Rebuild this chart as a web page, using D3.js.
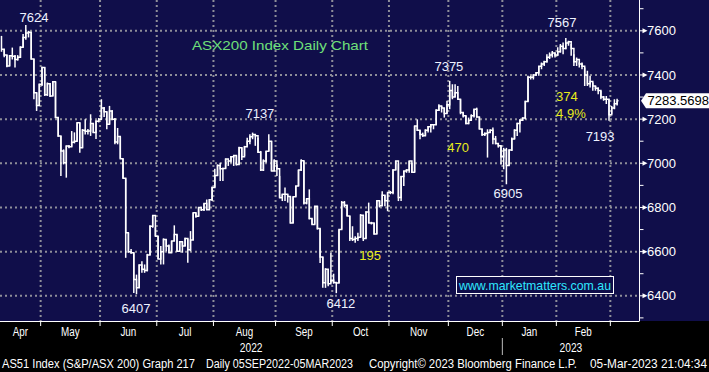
<!DOCTYPE html>
<html><head><meta charset="utf-8">
<script src="https://cdn.jsdelivr.net/npm/d3@7"></script>
<style>
html,body{margin:0;padding:0;background:#000;}
svg{display:block;}
</style></head><body>
<svg id="c" width="709" height="372"></svg>
<script>
// ---------- DATA ----------
const monthNames = ["Apr","May","Jun","Jul","Aug","Sep","Oct","Nov","Dec","Jan","Feb","Mar"];
const monthDays  = [15,22,21,21,23,21,21,22,20,20,20,3];
const yearLabels = ["2022","2023"];
const yearFirstMonth = [0,9];
const yTicks = [6400,6600,6800,7000,7200,7400,7600];
const yMinorTicks = [6300,6500,6700,6900,7100,7300,7500,7700];
const lastPrice = 7283.5698;

const closes = [
7517,7490,7441,7487,7485,7470,7480,7525,7570,7590,7593,7472,7320,7262,7358,
7434,7310,7360,7305,7369,7207,7124,7056,7003,7078,7075,7095,7100,7184,7070,7150,7145,7146,7180,7140,7190,7200,
7250,7233,7177,7237,7200,7096,7121,7021,6932,6685,6600,6595,6474,6436,6540,6520,6515,6585,6715,6764,6670,
6567,6600,6655,6625,6595,6648,6678,6602,6645,6625,6660,6608,6653,6776,6760,6800,6790,6818,6790,6835,6890,
6945,6990,6975,6976,7020,7010,7030,7035,6995,7070,7030,7075,7100,7120,7130,7125,7050,6970,7010,7055,7100,6965,7010,
6975,6844,6860,6860,6850,6730,6848,6897,6970,7012,6820,6840,6750,6723,6806,6705,6576,6459,6520,6455,6470,
6460,6458,6700,6822,6810,6761,6660,6655,6660,6665,6765,6660,6780,6730,6730,6680,6830,6808,6855,6830,6868,
6868,6970,7010,6845,6940,6965,6970,7010,6960,7169,7150,7130,7125,7150,7165,7175,7175,7240,7260,7250,7225,7265,
7330,7300,7320,7290,7230,7215,7180,7195,7215,7245,7210,7155,7130,7135,7140,7150,7110,7090,7080,7030,
7060,6990,7060,7110,7150,7180,7195,7205,7280,7390,7390,7400,7410,7440,7450,7460,7480,7490,7500,7490,
7505,7530,7520,7545,7550,7520,7460,7470,7450,7440,7400,7360,7370,7350,7340,7330,7300,7290,7290,7220,
7250,7270,7283.57
];
const lows = [
7505,7480,7435,7441,7470,7434,7465,7478,7525,7560,7570,7470,7290,7237,7262,
7350,7305,7305,7300,7305,7205,7120,6942,6995,6935,7068,7075,7090,7100,7048,7070,7130,7130,7124,7137,7110,7185,
7200,7210,7154,7177,7195,7086,7086,7021,6932,6572,6595,6590,6413,6407,6436,6504,6504,6511,6585,6708,6670,
6567,6542,6542,6602,6595,6595,6648,6602,6602,6595,6625,6550,6602,6653,6753,6760,6784,6784,6790,6790,6829,
6890,6943,6920,6920,6976,6988,7003,6988,6990,6995,7015,7033,7079,7086,7109,7079,7048,6965,6965,7003,7056,6965,6965,
6943,6844,6829,6829,6822,6728,6730,6848,6897,6965,6814,6814,6746,6723,6723,6700,6549,6436,6436,6443,6459,
6455,6412,6458,6700,6800,6761,6648,6648,6640,6648,6665,6648,6660,6730,6723,6678,6680,6800,6808,6806,6783,
6860,6860,6970,6829,6829,6897,6957,6957,6957,6960,7146,7109,7120,7125,7139,7139,7154,7175,7237,7230,7207,7225,
7245,7290,7300,7290,7222,7207,7177,7177,7195,7207,7207,7154,7124,7124,7026,7139,7086,7086,7071,6995,
6973,6905,6990,7056,7110,7124,7139,7192,7200,7280,7380,7380,7396,7396,7426,7441,7456,7472,7479,7479,
7487,7502,7494,7517,7532,7487,7441,7441,7434,7426,7350,7350,7343,7328,7328,7313,7290,7283,7268,7193,
7222,7245,7262
];
const highs = [
7577,7517,7490,7490,7524,7490,7490,7530,7585,7626,7600,7595,7472,7320,7360,
7437,7435,7366,7362,7372,7369,7207,7124,7063,7080,7082,7146,7140,7185,7184,7155,7199,7155,7222,7180,7195,7205,
7290,7255,7233,7260,7240,7205,7160,7121,7021,6932,6685,6612,6595,6496,6542,6557,6542,6590,6719,6764,6710,
6670,6625,6660,6655,6632,6648,6719,6678,6648,6645,6663,6660,6693,6776,6776,6800,6795,6818,6836,6838,6894,
6975,6995,7003,6980,7021,7011,7033,7036,7035,7075,7071,7079,7116,7131,7139,7131,7116,7056,7018,7056,7132,7101,7018,
6995,6943,6860,6890,6860,6850,6848,6897,6970,7018,7010,6840,6882,6750,6806,6806,6705,6576,6525,6520,6595,
6500,6462,6700,6829,6829,6810,6761,6715,6670,6685,6770,6765,6783,6822,6735,6730,6829,6830,6874,6855,6868,
6875,6973,7010,7000,6943,6965,6973,7010,7003,7169,7199,7150,7139,7154,7169,7177,7177,7245,7267,7260,7250,7283,
7373,7358,7358,7350,7290,7230,7215,7207,7222,7245,7252,7210,7155,7139,7154,7154,7162,7124,7090,7080,
7070,7070,7063,7117,7154,7184,7200,7207,7283,7396,7396,7403,7412,7441,7456,7464,7494,7502,7509,7502,
7525,7540,7547,7567,7555,7540,7494,7479,7456,7456,7434,7419,7396,7366,7350,7343,7328,7305,7305,7290,
7260,7290,7292
];

// annotations (data coordinates: bar index, index value)
const whiteNotes = ["7624","7137","6407","6412","7375","6905","7567","7193"];
const whiteNoteIdx = [12, 95.7, 49.8, 125.7, 165.7, 187.6, 207.6, 221.7];
const whiteNoteVal = [7640, 7207, 6324, 6347, 7420, 6845, 7615, 7099];
const yellowNotes = ["195","470","374","4.9%"];
const yellowNoteIdx = [136.5, 169.1, 205.4, 205.4];
const yellowNoteVal = [6560, 7049, 7280, 7207];
const yellowAnchor = ["middle","middle","start","start"];

const titleText = "ASX200 Index Daily Chart";
const urlText = "www.marketmatters.com.au";
const footerParts = ["AS51 Index (S&P/ASX 200) Graph 217","Daily 05SEP2022-05MAR2023","Copyright\u00A9 2023 Bloomberg Finance L.P.","05-Mar-2023 21:04:34"];

// ---------- LAYOUT ----------
const W = 709, H = 372, plotBottom = 321, axisX = 639.5;
const svg = d3.select("#c");
const N = closes.length;
const x = d3.scaleLinear().domain([0, N - 1]).range([1.5, 1.5 + (N - 1) * 2.7]);
const y = d3.scaleLinear().domain([6400, 7600]).range([295.8, 30.8]);
const numFont = "'Liberation Sans', Arial, Helvetica, sans-serif";

svg.append("rect").attr("x",0).attr("y",0).attr("width",W).attr("height",H).attr("fill","#000");
svg.append("rect").attr("x",0).attr("y",0).attr("width",W).attr("height",plotBottom).attr("fill","#100e4a");

// month boundaries
const starts = [];
let acc = 0;
monthDays.forEach(d => { starts.push(acc); acc += d; });
const boundaries = starts.slice(1).map(s => x(s - 0.5));

const grid = svg.append("g").attr("stroke","#8e8e99").attr("stroke-width",2).attr("stroke-dasharray","2,3");
yTicks.forEach(t => grid.append("line").attr("x1",0).attr("x2",axisX).attr("y1",y(t)).attr("y2",y(t)));
boundaries.forEach(bx => grid.append("line").attr("x1",bx).attr("x2",bx).attr("y1",0).attr("y2",plotBottom));

// price bars
svg.append("clipPath").attr("id","pc").append("rect").attr("x",0).attr("y",0).attr("width",axisX).attr("height",plotBottom);
const pg = svg.append("g").attr("clip-path","url(#pc)");
pg.selectAll("line.hl").data(closes).enter().append("line").attr("class","hl")
  .attr("x1",(d,i)=>x(i)).attr("x2",(d,i)=>x(i))
  .attr("y1",(d,i)=>y(lows[i])).attr("y2",(d,i)=>y(highs[i]))
  .attr("stroke","#fff").attr("stroke-width",1.5);
const stepLine = d3.line().x((d,i)=>x(i)).y(d=>y(d)).curve(d3.curveStepAfter);
pg.append("path").attr("d", stepLine(closes)).attr("fill","none").attr("stroke","#fff").attr("stroke-width",1.5);
pg.append("line").attr("x1",x(N-1)).attr("x2",x(N-1)+1.4).attr("y1",y(closes[N-1])).attr("y2",y(closes[N-1]))
  .attr("stroke","#fff").attr("stroke-width",1.5);

// right axis
svg.append("line").attr("x1",axisX).attr("x2",axisX).attr("y1",0).attr("y2",plotBottom).attr("stroke","#fff").attr("stroke-width",1);
yMinorTicks.forEach(t => svg.append("line").attr("x1",axisX).attr("x2",axisX+4).attr("y1",y(t)).attr("y2",y(t)).attr("stroke","#fff").attr("stroke-width",1));
yTicks.forEach(t => {
  const yy = y(t);
  svg.append("line").attr("x1",axisX).attr("x2",axisX+4).attr("y1",yy).attr("y2",yy).attr("stroke","#fff").attr("stroke-width",1);
  svg.append("path").attr("d",`M${axisX+3},${yy-2.5}L${axisX+8},${yy}L${axisX+3},${yy+2.5}Z`).attr("fill","#fff");
  svg.append("text").attr("x",647).attr("y",yy+4.6).attr("fill","#fff").attr("font-family",numFont).attr("font-size",13).text(t);
});

// last price tag
const ly = y(lastPrice);
svg.append("path").attr("d",`M641,${ly}L646,${ly-7.5}L709,${ly-7.5}L709,${ly+7.5}L646,${ly+7.5}Z`).attr("fill","#fff");
svg.append("text").attr("x",647.5).attr("y",ly+4.6).attr("fill","#000").attr("font-family",numFont).attr("font-size",13).text(lastPrice.toFixed(4));

// bottom axis
svg.append("line").attr("x1",0).attr("x2",axisX).attr("y1",plotBottom+0.5).attr("y2",plotBottom+0.5).attr("stroke","#fff").attr("stroke-width",1);
boundaries.forEach(bx => svg.append("line").attr("x1",bx).attr("x2",bx).attr("y1",plotBottom).attr("y2",plotBottom+5).attr("stroke","#fff").attr("stroke-width",1));

function condensed(sel, factor){
  sel.each(function(){
    const l = this.getComputedTextLength();
    d3.select(this).attr("textLength", l*factor).attr("lengthAdjust","spacingAndGlyphs");
  });
}
const edges = [0].concat(boundaries).concat([axisX]);
monthNames.forEach((m,k) => {
  if (k === monthNames.length - 1) return;
  const cx = (edges[k] + edges[k+1]) / 2;
  const t = svg.append("text").attr("x",cx).attr("y",336).attr("text-anchor","middle").attr("fill","#fff")
    .attr("font-family",numFont).attr("font-size",12).text(m);
  condensed(t, 0.82);
});
// year separator & labels
const sepX = boundaries[yearFirstMonth[1]-1];
svg.append("line").attr("x1",sepX).attr("x2",sepX).attr("y1",338).attr("y2",355).attr("stroke","#bbb").attr("stroke-width",1);
yearLabels.forEach((yl,k) => {
  const a = edges[yearFirstMonth[k]];
  const b = k + 1 < yearLabels.length ? edges[yearFirstMonth[k+1]] : axisX;
  const t = svg.append("text").attr("x",(a+b)/2).attr("y",351.5).attr("text-anchor","middle").attr("fill","#fff")
    .attr("font-family",numFont).attr("font-size",12).text(yl);
  condensed(t, 0.85);
});
// footer
const footerX = [2, 206, 369, 590];
const footerW = [193, 147, 208, 117];
footerParts.forEach((f,k) => {
  svg.append("text").attr("x",footerX[k]).attr("y",368).attr("fill","#fff").attr("font-family",numFont).attr("font-size",12)
    .attr("textLength",footerW[k]).attr("lengthAdjust","spacingAndGlyphs").text(f);
});

// annotations
whiteNotes.forEach((s,k) => {
  svg.append("text").attr("x",x(whiteNoteIdx[k])).attr("y",y(whiteNoteVal[k])).attr("text-anchor","middle")
    .attr("fill","#eef2ff").attr("font-family",numFont).attr("font-size",13).text(s);
});
yellowNotes.forEach((s,k) => {
  svg.append("text").attr("x",x(yellowNoteIdx[k])).attr("y",y(yellowNoteVal[k])).attr("text-anchor",yellowAnchor[k])
    .attr("fill","#e8ec1a").attr("font-family",numFont).attr("font-size",13).text(s);
});
svg.append("text").attr("x",192).attr("y",49.5).attr("fill","#6fe07a").attr("font-family",numFont).attr("font-size",13)
  .attr("textLength",176).attr("lengthAdjust","spacingAndGlyphs").text(titleText);

// url box
svg.append("rect").attr("x",456.5).attr("y",276.5).attr("width",157).attr("height",17).attr("fill","#100e4a").attr("stroke","#fff").attr("stroke-width",1);
svg.append("text").attr("x",459).attr("y",289.5).attr("fill","#2ee8ff").attr("font-family",numFont).attr("font-size",13)
  .attr("textLength",152).attr("lengthAdjust","spacingAndGlyphs").text(urlText);
</script>
</body></html>
